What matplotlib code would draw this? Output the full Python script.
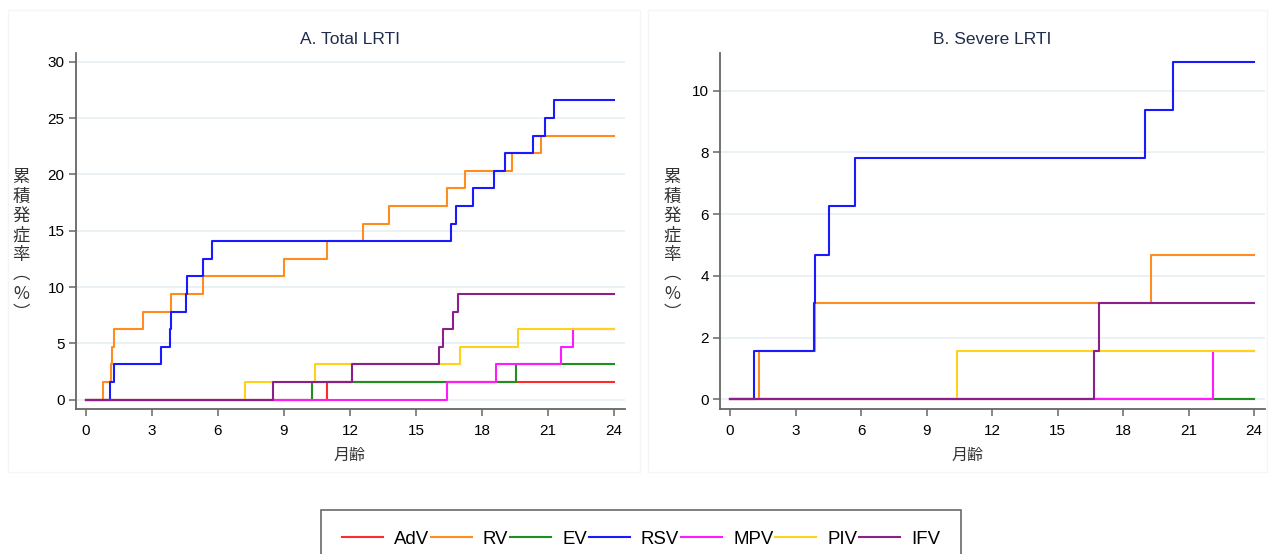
import matplotlib
matplotlib.use('Agg')
import matplotlib.pyplot as plt
from matplotlib.patches import Rectangle

plt.rcParams['font.family'] = ['Liberation Sans', 'Noto Sans CJK JP', 'DejaVu Sans']

# virus names / colours (legend order = drawing order)
names = ['AdV', 'RV', 'EV', 'RSV', 'MPV', 'PIV', 'IFV']
colors = ['#ff2a2a', '#ff8c1f', '#1f8f1f', '#1a1aff', '#ff1aff', '#ffd21a', '#8b1f8b']

# A. Total LRTI : event months and cumulative incidence (%)
adv_a_t = [10.97]
adv_a_y = [1.56]
rv_a_t = [0.76, 1.14, 1.17, 1.30, 2.61, 3.88, 5.32, 9.01, 10.97, 12.58, 13.77, 16.43, 17.22, 19.36, 20.68]
rv_a_y = [1.56, 3.13, 4.69, 6.25, 7.81, 9.38, 10.94, 12.5, 14.06, 15.63, 17.19, 18.75, 20.31, 21.88, 23.44]
ev_a_t = [10.27, 19.55]
ev_a_y = [1.56, 3.13]
rsv_a_t = [1.09, 1.27, 3.43, 3.84, 3.88, 4.53, 4.58, 5.32, 5.72, 16.6, 16.8, 17.61, 18.54, 19.04, 20.33, 20.85, 21.29]
rsv_a_y = [1.56, 3.13, 4.69, 6.25, 7.81, 9.38, 10.94, 12.5, 14.06, 15.63, 17.19, 18.75, 20.31, 21.88, 23.44, 25.0, 26.56]
mpv_a_t = [16.43, 18.63, 21.57, 22.15]
mpv_a_y = [1.56, 3.13, 4.69, 6.25]
piv_a_t = [7.22, 10.42, 17.0, 19.62]
piv_a_y = [1.56, 3.13, 4.69, 6.25]
ifv_a_t = [8.51, 12.1, 16.05, 16.22, 16.69, 16.93]
ifv_a_y = [1.56, 3.13, 4.69, 6.25, 7.81, 9.38]

# B. Severe LRTI
adv_b_t = []
adv_b_y = []
rv_b_t = [1.34, 3.9, 19.3]
rv_b_y = [1.56, 3.13, 4.69]
ev_b_t = []
ev_b_y = []
rsv_b_t = [1.1, 3.86, 3.9, 4.52, 5.71, 19.02, 20.3]
rsv_b_y = [1.56, 3.13, 4.69, 6.25, 7.81, 9.38, 10.94]
mpv_b_t = [22.1]
mpv_b_y = [1.56]
piv_b_t = [10.4]
piv_b_y = [1.56]
ifv_b_t = [16.67, 16.89]
ifv_b_y = [1.56, 3.13]

data_a = [(adv_a_t, adv_a_y), (rv_a_t, rv_a_y), (ev_a_t, ev_a_y), (rsv_a_t, rsv_a_y),
          (mpv_a_t, mpv_a_y), (piv_a_t, piv_a_y), (ifv_a_t, ifv_a_y)]
data_b = [(adv_b_t, adv_b_y), (rv_b_t, rv_b_y), (ev_b_t, ev_b_y), (rsv_b_t, rsv_b_y),
          (mpv_b_t, mpv_b_y), (piv_b_t, piv_b_y), (ifv_b_t, ifv_b_y)]

W, H = 1269, 554
fig = plt.figure(figsize=(W / 100, H / 100), dpi=100)

# faint panel frames
fig.patches.append(Rectangle((8 / W, 1 - 472 / H), 632 / W, 462 / H, transform=fig.transFigure,
                             fill=False, edgecolor='#f5f5f5', lw=1))
fig.patches.append(Rectangle((648 / W, 1 - 472 / H), 619 / W, 462 / H, transform=fig.transFigure,
                             fill=False, edgecolor='#f5f5f5', lw=1))

axA = fig.add_axes([75.7 / W, 1 - 409 / H, (625 - 75.7) / W, (409 - 52.7) / H])
axB = fig.add_axes([720 / W, 1 - 409 / H, (1265 - 720) / W, (409 - 52.7) / H])


def draw_panel(ax, data, yticks, ylim):
    for (t, y), name, c in zip(data, names, colors):
        tt = [0] + t + [24]
        yy = [0] + y + [y[-1] if y else 0]
        ax.step(tt, yy, where='post', color=c, lw=1.5, label=name)
    ax.set_xlim(-0.46, 24.5)
    ax.set_ylim(*ylim)
    ax.set_xticks(range(0, 25, 3))
    ax.set_yticks(yticks)
    ax.grid(axis='y', color='#e8f0f3', lw=1.2)
    ax.set_axisbelow(True)
    for s in ['top', 'right']:
        ax.spines[s].set_visible(False)
    for s in ['left', 'bottom']:
        ax.spines[s].set_color('#666666')
        ax.spines[s].set_linewidth(1.3)
    ax.tick_params(axis='both', labelsize=11, color='#666666', width=1.1, length=5)
    ax.tick_params(axis='x', pad=6)
    ax.tick_params(axis='y', pad=3)


draw_panel(axA, data_a, range(0, 31, 5), (-0.83, 30.8))
draw_panel(axB, data_b, range(0, 11, 2), (-0.31, 11.23))

# titles
fig.text(349.5 / W, 1 - 39.5 / H, 'A. Total LRTI', ha='center', va='center', fontsize=12.5, color='#1f2d4d')
fig.text(992 / W, 1 - 39.5 / H, 'B. Severe LRTI', ha='center', va='center', fontsize=12.5, color='#1f2d4d')

# vertical japanese y labels (one character per line)
ylab = '累\n積\n発\n症\n率\n︵\n%\n︶'
for xpos in [21, 672]:
    fig.text(xpos / W, 1 - 245 / H, ylab, ha='center', va='center', fontsize=12.5, color='#333333',
             linespacing=1.1, family=['Noto Sans CJK JP', 'DejaVu Sans'])

# x labels
fig.text(350 / W, 1 - 455 / H, '月齢', ha='center', va='center', fontsize=11.5, color='#333333')
fig.text(968 / W, 1 - 455 / H, '月齢', ha='center', va='center', fontsize=11.5, color='#333333')

# legend along the bottom
handles, labels = axA.get_legend_handles_labels()
leg = fig.legend(handles, labels, loc='upper center', bbox_to_anchor=(641 / W, 1 - 500.7 / H),
                 ncol=7, fontsize=13.4, frameon=True, fancybox=False, borderpad=1.1,
                 handlelength=2.2, handletextpad=0.6, columnspacing=0.1)
leg.get_frame().set_edgecolor('#444444')
leg.get_frame().set_linewidth(1.2)

fig.savefig('out.png', dpi=100)
